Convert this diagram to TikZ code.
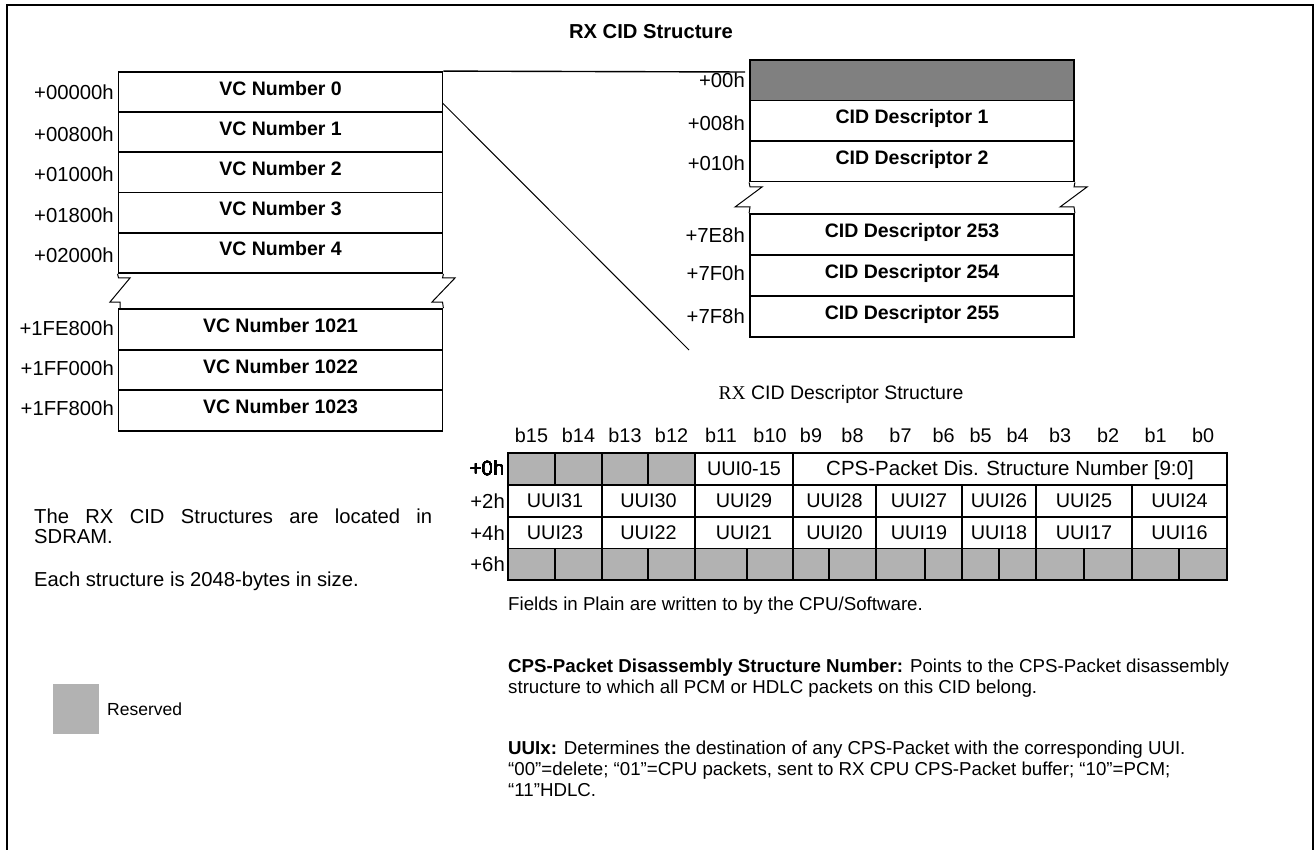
\documentclass[tikz,border=0pt]{standalone}
\usepackage{fontspec}
\setmainfont{Liberation Sans}
\newfontfamily\rxserif{Liberation Serif}
\usetikzlibrary{calc}
\definecolor{resgray}{RGB}{178,178,178}
\definecolor{topgray}{RGB}{128,128,128}
\newcommand{\mycell}[7]{\node[#6, minimum width={#4-#2}, minimum height={#5-#3}] (#1) at ({(#2+#4)/2},{(#3+#5)/2}) {#7};}
\tikzset{
  frame/.style={line width=2pt},
  memrow/.style={draw, line width=1.8pt, inner sep=0pt, font=\fontsize{19.5}{22}\selectfont\bfseries, text height=14pt, text depth=8pt},
  addr/.style={anchor=east, inner sep=0pt, font=\fontsize{20.3}{22}\selectfont},
  bitcell/.style={draw, line width=1.7pt, inner sep=0pt, font=\fontsize{19.8}{22}\selectfont, text height=14pt, text depth=1pt},
  rescell/.style={bitcell, fill=resgray},
  bitlab/.style={inner sep=0pt, font=\fontsize{19.8}{22}\selectfont},
  thinline/.style={line width=1pt},
  body/.style={inner sep=0pt, anchor=base west, font=\fontsize{18.7}{21}\selectfont},
  lefttext/.style={inner sep=0pt, anchor=base west, font=\fontsize{20.2}{22}\selectfont},
}
\begin{document}
\begin{tikzpicture}[x=1pt,y=-1pt]
\useasboundingbox (0,0) rectangle (1314,850);
% outer frame
\draw[frame] (7,850) -- (7,5) -- (1313,5) -- (1313,850);
% title
\node[inner sep=0pt, font=\fontsize{20.2}{22}\selectfont\bfseries] (title) at (651,32) {RX CID Structure};

% VC table
\mycell{vc0}{118.5}{72}{442.5}{112.2}{memrow}{VC Number 0}
\mycell{vc1}{118.5}{112.2}{442.5}{152.4}{memrow}{VC Number 1}
\mycell{vc2}{118.5}{152.4}{442.5}{192.6}{memrow}{VC Number 2}
\mycell{vc3}{118.5}{192.6}{442.5}{232.8}{memrow}{VC Number 3}
\mycell{vc4}{118.5}{232.8}{442.5}{273}{memrow}{VC Number 4}
\mycell{vc1021}{118.5}{309}{442.5}{349.7}{memrow}{VC Number 1021}
\mycell{vc1022}{118.5}{349.7}{442.5}{390.3}{memrow}{VC Number 1022}
\mycell{vc1023}{118.5}{390.3}{442.5}{431}{memrow}{VC Number 1023}
\node[addr] (a0) at (114,92) {+00000h};
\node[addr] (a1) at (114,134) {+00800h};
\node[addr] (a2) at (114,174) {+01000h};
\node[addr] (a3) at (114,215) {+01800h};
\node[addr] (a4) at (114,255) {+02000h};
\node[addr] (a1021) at (114,328) {+1FE800h};
\node[addr] (a1022) at (114,368) {+1FF000h};
\node[addr] (a1023) at (114,408) {+1FF800h};
% VC break
\draw[thinline] (vc4.south west) -- (118.5,278) -- (130,278) -- (110,302) -- (120,302) -- (120,309);
\draw[thinline] (vc4.south east) -- (442.5,278) -- (455,278) -- (432,302) -- (442.5,302) -- (vc1021.north east);

% CID table
\mycell{cid0}{750}{60}{1074}{100.5}{memrow, fill=topgray}{}
\mycell{cid1}{750}{100.5}{1074}{141}{memrow}{CID Descriptor 1}
\mycell{cid2}{750}{141}{1074}{181.5}{memrow}{CID Descriptor 2}
\mycell{cid253}{750}{214}{1074}{255}{memrow}{CID Descriptor 253}
\mycell{cid254}{750}{255}{1074}{296}{memrow}{CID Descriptor 254}
\mycell{cid255}{750}{296}{1074}{337}{memrow}{CID Descriptor 255}
\node[addr] (c0) at (745,80) {+00h};
\node[addr] (c1) at (745,123) {+008h};
\node[addr] (c2) at (745,163) {+010h};
\node[addr] (c253) at (745,235) {+7E8h};
\node[addr] (c254) at (745,273) {+7F0h};
\node[addr] (c255) at (745,316) {+7F8h};
% CID break
\draw[thinline] (cid2.south west) -- (750,187) -- (762,187) -- (735,207) -- (750,207) -- (cid253.north west);
\draw[thinline] (cid2.south east) -- (1074,187) -- (1087,187) -- (1060,207) -- (1074,207) -- (cid253.north east);

% connectors from VC 0 to the CID structure
\coordinate (hlend) at (745,72);
\coordinate (dstart) at (442.5,103);
\coordinate (dend) at (689,350);
\draw[line width=1.4pt] (vc0.north east) -- (hlend);
\draw[line width=1pt] (dstart) -- (dend);

% descriptor structure
\node[inner sep=0pt, font=\fontsize{19.5}{22}\selectfont] (dtitle) at (841,394) {{\rxserif RX} CID Descriptor Structure};

\foreach \cx/\lab [count=\i] in {531.5/b15,578.5/b14,625/b13,671.5/b12,721/b11,770/b10,811/b9,852.5/b8,900.5/b7,943.5/b6,980.5/b5,1017.5/b4,1060/b3,1108/b2,1155.5/b1,1203/b0}
  \node[bitlab] (bl\i) at (\cx,435) {\lab};

% row +0h
\mycell{r0a}{508}{453}{555}{485}{rescell}{}
\mycell{r0b}{555}{453}{602}{485}{rescell}{}
\mycell{r0c}{602}{453}{648}{485}{rescell}{}
\mycell{r0d}{648}{453}{695}{485}{rescell}{}
\mycell{r0e}{695}{453}{793}{485}{bitcell}{UUI0-15}
\mycell{r0f}{793}{453}{1227}{485}{bitcell, font=\fontsize{20.5}{22}\selectfont}{CPS-Packet Dis. Structure Number [9:0]}
% row +2h
\mycell{r1a}{508}{485}{602}{517}{bitcell}{UUI31}
\mycell{r1b}{602}{485}{695}{517}{bitcell}{UUI30}
\mycell{r1c}{695}{485}{793}{517}{bitcell}{UUI29}
\mycell{r1d}{793}{485}{876}{517}{bitcell}{UUI28}
\mycell{r1e}{876}{485}{962}{517}{bitcell}{UUI27}
\mycell{r1f}{962}{485}{1036}{517}{bitcell}{UUI26}
\mycell{r1g}{1036}{485}{1132}{517}{bitcell}{UUI25}
\mycell{r1h}{1132}{485}{1227}{517}{bitcell}{UUI24}
% row +4h
\mycell{r2a}{508}{517}{602}{548.5}{bitcell}{UUI23}
\mycell{r2b}{602}{517}{695}{548.5}{bitcell}{UUI22}
\mycell{r2c}{695}{517}{793}{548.5}{bitcell}{UUI21}
\mycell{r2d}{793}{517}{876}{548.5}{bitcell}{UUI20}
\mycell{r2e}{876}{517}{962}{548.5}{bitcell}{UUI19}
\mycell{r2f}{962}{517}{1036}{548.5}{bitcell}{UUI18}
\mycell{r2g}{1036}{517}{1132}{548.5}{bitcell}{UUI17}
\mycell{r2h}{1132}{517}{1227}{548.5}{bitcell}{UUI16}
% row +6h
\foreach \xa/\xb [count=\i] in {508/555,555/602,602/648,648/695,695/747,747/793,793/829,829/876,876/925,925/962,962/999,999/1036,1036/1084,1084/1132,1132/1179,1179/1227}
  \mycell{r3c\i}{\xa}{548.5}{\xb}{580}{rescell}{}
\node[addr] (o0) at (504.5,468.4) {+0h};
\node[addr] (o2) at (505,501) {+2h};
\node[addr] (o4) at (505,533) {+4h};
\node[addr] (o6) at (505,564) {+6h};

% left text
\node[lefttext] (l1) at (34,523) {\makebox[398pt][s]{The RX CID Structures are located in}};
\node[lefttext] (l2) at (34,543) {SDRAM.};
\node[lefttext] (l3) at (34,586) {Each structure is 2048-bytes in size.};

% legend
\node[fill=resgray, minimum width=46, minimum height=50, inner sep=0pt] (legbox) at (76,709) {};
\node[anchor=west, inner sep=0pt, font=\fontsize{17.5}{19}\selectfont] (legtext) at (107,709) {Reserved};

% right text
\node[body] (r1) at (508,610) {Fields in Plain are written to by the CPU/Software.};
\node[body] (r2) at (508,672) {\textbf{CPS-Packet Disassembly Structure Number:} Points to the CPS-Packet disassembly};
\node[body] (r3) at (508,693) {structure to which all PCM or HDLC packets on this CID belong.};
\node[body] (r4) at (508,754) {\textbf{UUIx:} Determines the destination of any CPS-Packet with the corresponding UUI.};
\node[body] (r5) at (508,775) {“00”=delete; “01”=CPU packets, sent to RX CPU CPS-Packet buffer; “10”=PCM;};
\node[body] (r6) at (508,796) {“11”HDLC.};
\end{tikzpicture}
\end{document}
